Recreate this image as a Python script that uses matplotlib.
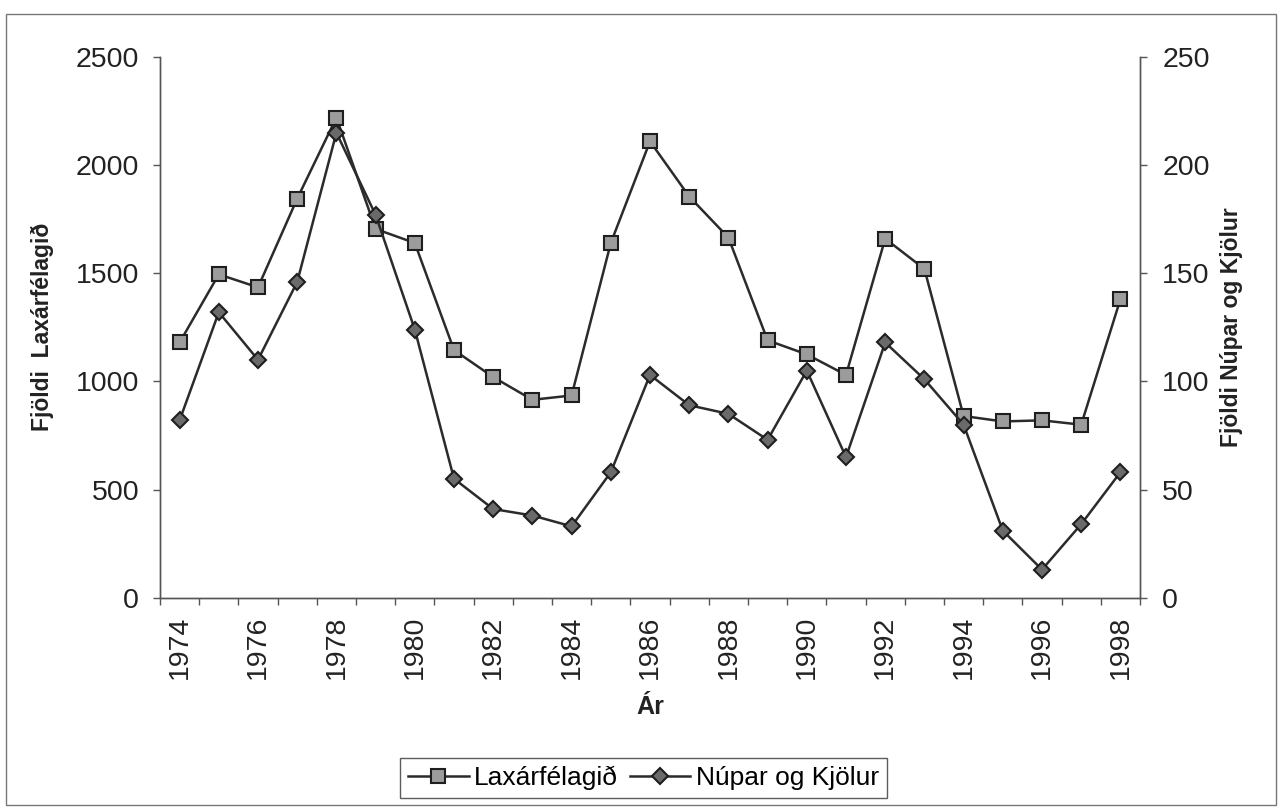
import numpy as np
import matplotlib
matplotlib.use("Agg")
import matplotlib.pyplot as plt
from matplotlib.patches import Rectangle

# ===== data =====
YEARS = [1974, 1975, 1976, 1977, 1978, 1979, 1980, 1981, 1982, 1983, 1984, 1985,
         1986, 1987, 1988, 1989, 1990, 1991, 1992, 1993, 1994, 1995, 1996, 1997, 1998]
LAXA = [1180, 1495, 1435, 1845, 2220, 1705, 1640, 1145, 1020, 915, 935, 1640,
        2110, 1855, 1665, 1190, 1125, 1030, 1660, 1520, 840, 815, 820, 800, 1380]
NUPAR = [82, 132, 110, 146, 215, 177, 124, 55, 41, 38, 33, 58,
         103, 89, 85, 73, 105, 65, 118, 101, 80, 31, 13, 34, 58]

LEFT_TICKS = [0, 500, 1000, 1500, 2000, 2500]
RIGHT_TICKS = [0, 50, 100, 150, 200, 250]

plt.rcParams["font.family"] = ["Liberation Sans", "DejaVu Sans"]

LINE = "#2b2b2b"
AXC = "#555555"
TICK_FS = 20.5

fig = plt.figure(figsize=(12.84, 8.07), dpi=100)
ax = fig.add_axes([160 / 1284, 1 - 597.7 / 807, 980 / 1284, 540.7 / 807])
ax2 = ax.twinx()

x = np.arange(len(YEARS))
l1, = ax.plot(x, LAXA, color=LINE, lw=1.8, marker="s", ms=10,
              mfc="#9c9c9c", mec="#1e1e1e", mew=1.5, label="Laxárfélagið")
l2, = ax2.plot(x, NUPAR, color=LINE, lw=1.8, marker="D", ms=8.5,
               mfc="#6a6a6a", mec="#1e1e1e", mew=1.5, label="Núpar og Kjölur")

ax.set_xlim(-0.5, len(YEARS) - 0.5)
ax.set_ylim(0, 2500)
ax2.set_ylim(0, 250)
ax.set_yticks(LEFT_TICKS)
ax2.set_yticks(RIGHT_TICKS)

# labels every other year, tick marks between categories
ax.set_xticks(x[::2])
ax.set_xticklabels([str(y) for y in YEARS[::2]], rotation=90)
ax.set_xticks(np.arange(-0.5, len(YEARS), 1), minor=True)
ax.tick_params(axis="x", which="major", length=0, pad=13, labelsize=TICK_FS)
ax.tick_params(axis="x", which="minor", length=5, width=1, color=AXC, direction="out")
ax.tick_params(axis="y", length=5, width=1, color=AXC, pad=10, labelsize=TICK_FS)
ax2.tick_params(axis="y", length=5, width=1, color=AXC, pad=11, labelsize=TICK_FS)

for a in (ax, ax2):
    a.spines["top"].set_visible(False)
    for s in ("left", "right", "bottom"):
        a.spines[s].set_color(AXC)
        a.spines[s].set_linewidth(1)
    for t in a.get_xticklabels() + a.get_yticklabels():
        t.set_color("#222222")

ax.set_ylabel("Fjöldi  Laxárfélagið", fontsize=16.5, fontweight="bold", color="#222222")
ax.yaxis.set_label_coords(-0.108, 0.5)
ax2.set_ylabel("Fjöldi Núpar og Kjölur", fontsize=16.5, fontweight="bold", color="#222222")
ax2.yaxis.set_label_coords(1.0816, 0.5)
ax.set_xlabel("Ár", fontsize=18, fontweight="bold", color="#222222")
ax.xaxis.set_label_coords(0.5, -0.18)

leg = fig.legend(handles=[l1, l2], ncol=2, loc="lower left",
                 bbox_to_anchor=(400 / 1284, 9 / 807), bbox_transform=fig.transFigure,
                 borderaxespad=0, fontsize=19, frameon=True, fancybox=False,
                 handlelength=2.3, handletextpad=0.2, columnspacing=0.45,
                 borderpad=0.3)
leg.get_frame().set_edgecolor("#333333")
leg.get_frame().set_linewidth(1)

# thin border round the whole chart
fig.patches.append(Rectangle((6 / 1284, 2 / 807), 1270 / 1284, 791 / 807,
                             transform=fig.transFigure, fill=False,
                             edgecolor="#777777", lw=1))

fig.savefig("out.png", dpi=100)
